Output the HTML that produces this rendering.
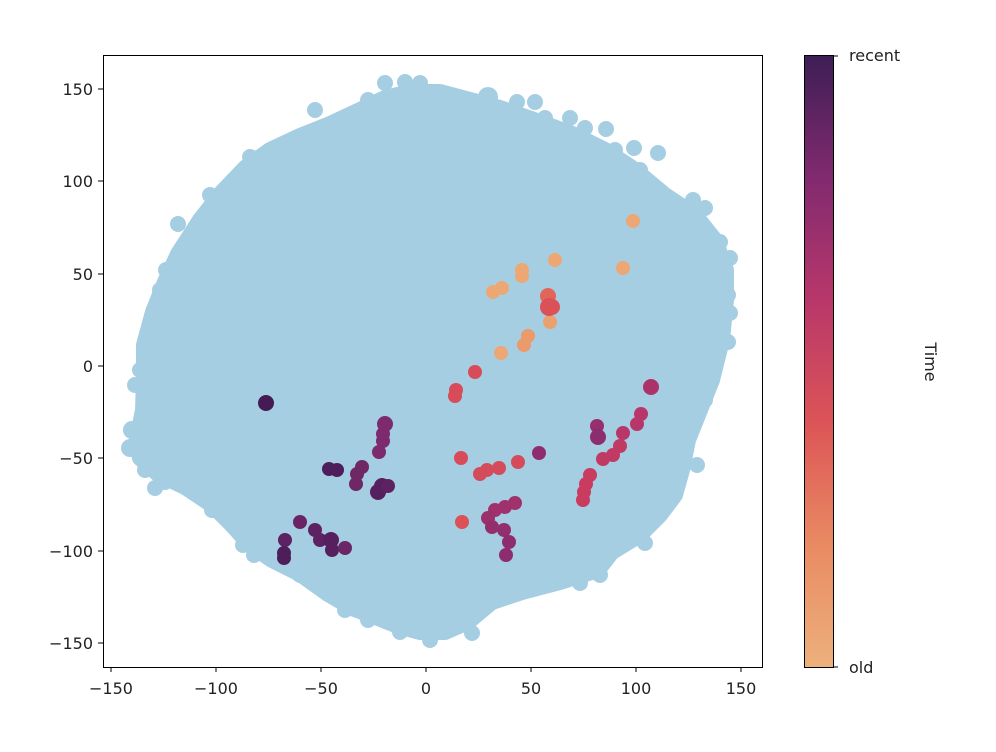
<!DOCTYPE html>
<html><head><meta charset="utf-8"><style>
body{margin:0;background:#fff;}
svg text{font-family:"DejaVu Sans","Liberation Sans",sans-serif;font-size:16px;fill:#222;}
</style></head><body>
<svg width="996" height="747" viewBox="0 0 996 747" xmlns="http://www.w3.org/2000/svg">
<defs>
<linearGradient id="cb" x1="0" y1="1" x2="0" y2="0">
<stop offset="0" stop-color="#edb07c"/>
<stop offset="0.2" stop-color="#e98a62"/>
<stop offset="0.4" stop-color="#dc5457"/>
<stop offset="0.6" stop-color="#b8376a"/>
<stop offset="0.8" stop-color="#812a6f"/>
<stop offset="1" stop-color="#3d1e55"/>
</linearGradient>
</defs>
<g fill="#a6cee3">
<polygon stroke="#a6cee3" stroke-width="16" stroke-linejoin="round" points="410,92 440,92 470,100 500,108 540,122 575,135 605,150 635,170 665,195 695,215 715,240 726,270 726,300 722,340 712,380 700,410 688,440 682,470 675,495 660,515 640,535 612,552 598,570 560,582 522,592 492,602 468,622 445,632 420,632 398,626 378,618 352,608 328,594 300,574 272,560 250,545 232,525 212,505 185,487 158,474 140,458 137,440 143,410 144,380 144,345 153,312 165,282 178,254 200,220 222,192 245,168 270,150 300,136 330,124 360,110 385,98"/>
<circle cx="385" cy="83" r="8"/><circle cx="405" cy="82" r="8"/><circle cx="420" cy="83" r="8"/><circle cx="368" cy="100" r="8"/><circle cx="315" cy="110" r="8"/><circle cx="448" cy="96" r="8"/><circle cx="488" cy="97" r="10"/><circle cx="517" cy="102" r="8"/><circle cx="535" cy="102" r="8"/><circle cx="545" cy="118" r="8"/><circle cx="570" cy="118" r="8"/><circle cx="585" cy="128" r="8"/><circle cx="606" cy="129" r="8"/><circle cx="590" cy="150" r="8"/><circle cx="615" cy="150" r="8"/><circle cx="634" cy="148" r="8"/><circle cx="658" cy="153" r="8"/><circle cx="600" cy="180" r="8"/><circle cx="640" cy="170" r="8"/><circle cx="630" cy="190" r="8"/><circle cx="660" cy="195" r="8"/><circle cx="675" cy="205" r="8"/><circle cx="693" cy="200" r="8"/><circle cx="705" cy="208" r="8"/><circle cx="720" cy="242" r="8"/><circle cx="730" cy="258" r="8"/><circle cx="728" cy="295" r="8"/><circle cx="730" cy="313" r="8"/><circle cx="728" cy="342" r="8"/><circle cx="705" cy="375" r="8"/><circle cx="712" cy="378" r="8"/><circle cx="178" cy="224" r="8"/><circle cx="166" cy="270" r="8"/><circle cx="160" cy="290" r="8"/><circle cx="147" cy="346" r="8"/><circle cx="140" cy="370" r="8"/><circle cx="135" cy="385" r="8"/><circle cx="132" cy="430" r="9"/><circle cx="130" cy="448" r="9"/><circle cx="145" cy="470" r="8"/><circle cx="165" cy="482" r="8"/><circle cx="155" cy="488" r="8"/><circle cx="243" cy="545" r="8"/><circle cx="254" cy="555" r="8"/><circle cx="300" cy="575" r="8"/><circle cx="345" cy="610" r="8"/><circle cx="368" cy="620" r="8"/><circle cx="400" cy="632" r="8"/><circle cx="430" cy="640" r="8"/><circle cx="472" cy="633" r="8"/><circle cx="645" cy="543" r="8"/><circle cx="210" cy="195" r="8"/><circle cx="250" cy="157" r="8"/><circle cx="212" cy="510" r="8"/><circle cx="600" cy="575" r="8"/><circle cx="580" cy="583" r="8"/><circle cx="690" cy="420" r="8"/><circle cx="697" cy="465" r="8"/><circle cx="705" cy="400" r="8"/></g>
<g>
<circle cx="633" cy="221" r="7" fill="#eda774"/><circle cx="623" cy="268" r="7" fill="#eda774"/><circle cx="555" cy="260" r="7" fill="#eda774"/><circle cx="522" cy="270" r="7" fill="#eda774"/><circle cx="522" cy="276" r="7" fill="#eda774"/><circle cx="502" cy="288" r="7" fill="#eda774"/><circle cx="493" cy="292" r="7" fill="#eda774"/><circle cx="550" cy="322" r="7" fill="#eba06f"/><circle cx="528" cy="336" r="7" fill="#eb9a6b"/><circle cx="524" cy="345" r="7" fill="#eb9a6b"/><circle cx="501" cy="353" r="7" fill="#eda774"/>
<circle cx="548" cy="296" r="8" fill="#e2655a"/><circle cx="549" cy="307" r="9" fill="#dc5157"/><circle cx="552" cy="307" r="8" fill="#dc5157"/>
<circle cx="475" cy="372" r="7" fill="#d84c5a"/><circle cx="456" cy="390" r="7" fill="#d84c5a"/><circle cx="455" cy="396" r="7" fill="#d84c5a"/>
<circle cx="461" cy="458" r="7" fill="#d84c5a"/><circle cx="480" cy="474" r="7" fill="#d44c5c"/><circle cx="487" cy="470" r="7" fill="#d44c5c"/><circle cx="499" cy="468" r="7" fill="#d44c5c"/><circle cx="518" cy="462" r="7" fill="#d44c5c"/><circle cx="462" cy="522" r="7" fill="#dc5157"/>
<circle cx="539" cy="453" r="7" fill="#8f2c6f"/><circle cx="515" cy="503" r="7" fill="#a0316c"/><circle cx="505" cy="507" r="7" fill="#a0316c"/><circle cx="495" cy="510" r="7" fill="#a0316c"/><circle cx="488" cy="518" r="7" fill="#9a306c"/><circle cx="492" cy="527" r="7" fill="#92306d"/><circle cx="504" cy="530" r="7" fill="#92306d"/><circle cx="509" cy="542" r="7" fill="#8d2d6e"/><circle cx="506" cy="555" r="7" fill="#8d2d6e"/>
<circle cx="651" cy="387" r="8" fill="#ab336a"/><circle cx="641" cy="414" r="7" fill="#b8366a"/><circle cx="637" cy="424" r="7" fill="#b8366a"/><circle cx="623" cy="433" r="7" fill="#b8366a"/><circle cx="620" cy="446" r="7" fill="#c13a63"/><circle cx="613" cy="455" r="7" fill="#c13a63"/><circle cx="603" cy="459" r="7" fill="#c13a63"/><circle cx="597" cy="426" r="7" fill="#952f6d"/><circle cx="598" cy="437" r="8" fill="#8c2d6e"/><circle cx="590" cy="475" r="7" fill="#c93c5f"/><circle cx="586" cy="484" r="7" fill="#c93c5f"/><circle cx="584" cy="492" r="7" fill="#c93c5f"/><circle cx="583" cy="500" r="7" fill="#c93c5f"/>
<circle cx="266" cy="403" r="8" fill="#441b54"/>
<circle cx="385" cy="424" r="8" fill="#7d2a6e"/><circle cx="383" cy="434" r="7" fill="#7d2a6e"/><circle cx="383" cy="441" r="7" fill="#7d2a6e"/><circle cx="379" cy="452" r="7" fill="#7d2a6e"/>
<circle cx="329" cy="469" r="7" fill="#4c1e5a"/><circle cx="337" cy="470" r="7" fill="#4c1e5a"/><circle cx="357" cy="474" r="7" fill="#702766"/><circle cx="362" cy="467" r="7" fill="#702766"/><circle cx="356" cy="484" r="7" fill="#702766"/><circle cx="382" cy="486" r="8" fill="#562060"/><circle cx="378" cy="492" r="8" fill="#562060"/><circle cx="388" cy="486" r="7" fill="#5e2262"/>
<circle cx="300" cy="522" r="7" fill="#6a2466"/><circle cx="315" cy="530" r="7" fill="#5d2262"/><circle cx="320" cy="540" r="7" fill="#5d2262"/><circle cx="331" cy="540" r="8" fill="#56205f"/><circle cx="332" cy="550" r="7" fill="#56205f"/><circle cx="345" cy="548" r="7" fill="#6c2566"/><circle cx="285" cy="540" r="7" fill="#5d2262"/><circle cx="284" cy="553" r="7" fill="#4e1e5b"/><circle cx="284" cy="558" r="7" fill="#4e1e5b"/>
</g>
<rect x="103.5" y="55.5" width="659" height="612" fill="none" stroke="#000" stroke-width="1"/>
<g stroke="#000" stroke-width="1">
<line x1="111" y1="667" x2="111" y2="672"/><line x1="216" y1="667" x2="216" y2="672"/><line x1="321" y1="667" x2="321" y2="672"/><line x1="426" y1="667" x2="426" y2="672"/><line x1="531" y1="667" x2="531" y2="672"/><line x1="636" y1="667" x2="636" y2="672"/><line x1="741" y1="667" x2="741" y2="672"/>
<line x1="98" y1="89" x2="103" y2="89"/><line x1="98" y1="181" x2="103" y2="181"/><line x1="98" y1="274" x2="103" y2="274"/><line x1="98" y1="366" x2="103" y2="366"/><line x1="98" y1="458" x2="103" y2="458"/><line x1="98" y1="551" x2="103" y2="551"/><line x1="98" y1="643" x2="103" y2="643"/>
</g>
<g text-anchor="middle">
<text x="111" y="694">−150</text><text x="216" y="694">−100</text><text x="321" y="694">−50</text><text x="426" y="694">0</text><text x="531" y="694">50</text><text x="636" y="694">100</text><text x="741" y="694">150</text>
</g>
<g text-anchor="end">
<text x="93" y="95">150</text><text x="93" y="187">100</text><text x="93" y="280">50</text><text x="93" y="372">0</text><text x="93" y="464">−50</text><text x="93" y="557">−100</text><text x="93" y="649">−150</text>
</g>
<rect x="804" y="55" width="29" height="612" fill="url(#cb)"/>
<rect x="804.5" y="55.5" width="29" height="612" fill="none" stroke="#000"/>
<line x1="833" y1="56" x2="838" y2="56" stroke="#000"/><line x1="833" y1="667" x2="838" y2="667" stroke="#000"/>
<text x="849" y="61">recent</text><text x="849" y="673">old</text>
<text x="0" y="0" transform="translate(925,362) rotate(90)" text-anchor="middle">Time</text>
</svg>
</body></html>
